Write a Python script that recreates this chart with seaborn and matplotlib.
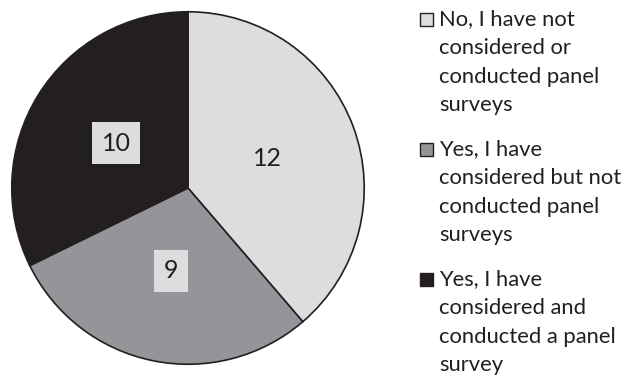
import matplotlib
matplotlib.use("Agg")
import matplotlib.pyplot as plt
import seaborn as sns
from matplotlib.patches import Rectangle

categories = [
    "No, I have not\nconsidered or\nconducted panel\nsurveys",
    "Yes, I have\nconsidered but not\nconducted panel\nsurveys",
    "Yes, I have\nconsidered and\nconducted a panel\nsurvey",
]
values = [12, 9, 10]
colors = ["#DCDDDE", "#949598", "#231F20"]

sns.set_theme(style="white")
plt.rcParams["font.family"] = ["Lato", "DejaVu Sans"]

W, H = 626, 376
fig = plt.figure(figsize=(W / 100, H / 100), dpi=100)
cx, cy, r = 188, 188, 178
ax = fig.add_axes([(cx - r) / W, (H - cy - r) / H, 2 * r / W, 2 * r / H])

wedges, texts, autotexts = ax.pie(
    values, colors=colors, startangle=90, counterclock=False,
    autopct=lambda p: "{:.0f}".format(p * sum(values) / 100),
    pctdistance=0.48, radius=1,
    wedgeprops=dict(edgecolor="#231F20", linewidth=1.2),
    textprops=dict(fontsize=18, color="#231F20"),
)
for t in autotexts:
    t.set_bbox(dict(boxstyle="square,pad=0.38", facecolor="#DCDDDE", edgecolor="none"))
ax.set_xlim(-1.01, 1.01)
ax.set_ylim(-1.01, 1.01)
ax.axis("off")

# legend drawn manually to align marker with first line
group_tops = [13, 143, 273]
for lab, col, top in zip(categories, colors, group_tops):
    fig.patches.append(Rectangle((420 / W, 1 - (top + 13) / H), 13 / W, 13 / H,
                                 transform=fig.transFigure, facecolor=col,
                                 edgecolor="#231F20", linewidth=1.0))
    fig.text(439 / W, 1 - (top - 4) / H, lab, ha="left", va="top",
             fontsize=15.8, color="#231F20", linespacing=1.55)

fig.savefig("out.png", dpi=100)
